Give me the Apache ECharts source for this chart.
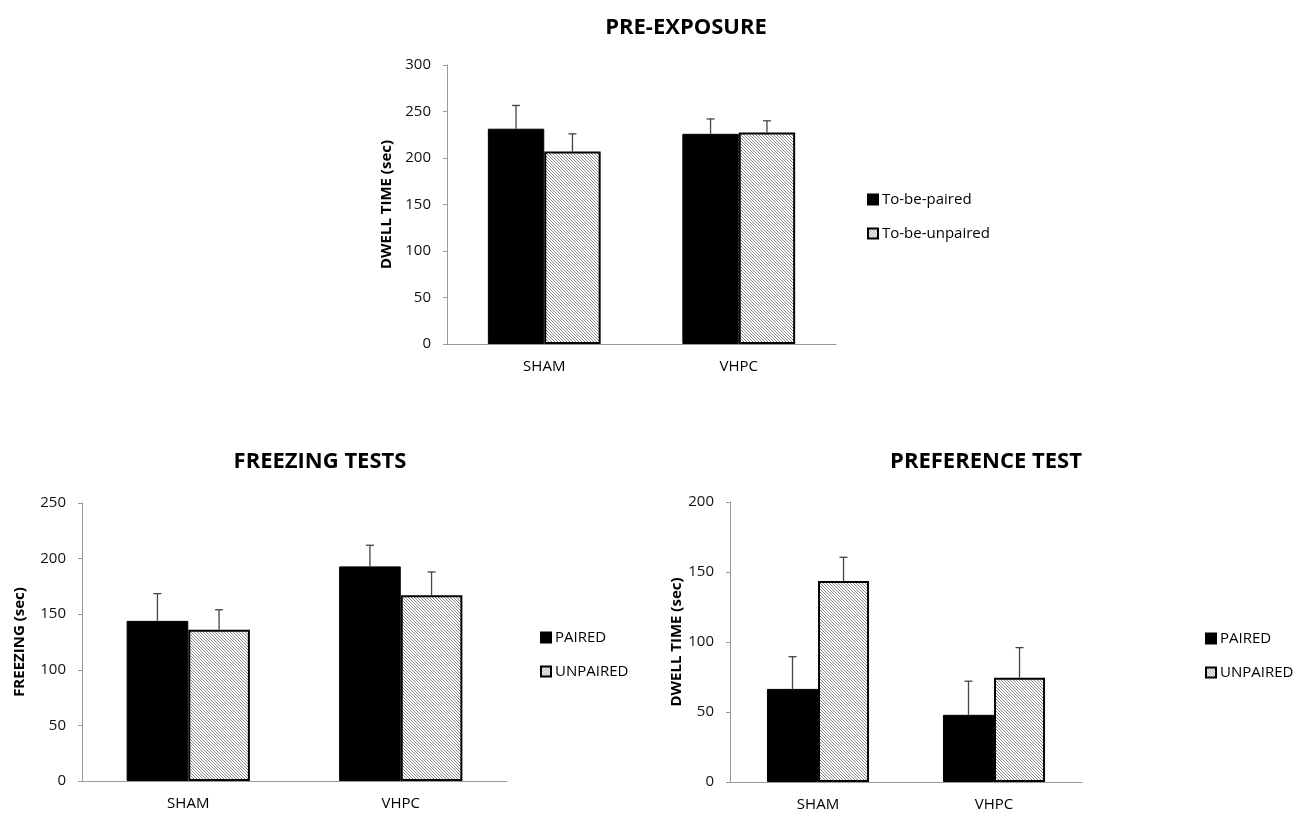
<!DOCTYPE html>
<html>
<head>
<meta charset="utf-8">
<script src="https://cdn.jsdelivr.net/npm/echarts@6/dist/echarts.min.js"></script>
<style>
  html, body { margin: 0; padding: 0; background: #fff; }
  #chart { width: 1294px; height: 814px; }
</style>
</head>
<body>
<div id="chart"></div>
<script>
// categories shared by the three panels
const categories = ["SHAM", "VHPC"];

// PRE-EXPOSURE
const preToBePaired = [231.5, 226];
const preToBePairedErr = [25, 16];
const preToBeUnpaired = [207, 227.5];
const preToBeUnpairedErr = [19, 12.5];

// FREEZING TESTS
const frzPaired = [144, 193];
const frzPairedErr = [24.5, 19];
const frzUnpaired = [136, 167];
const frzUnpairedErr = [18, 21];

// PREFERENCE TEST
const prefPaired = [66.5, 48];
const prefPairedErr = [23, 24];
const prefUnpaired = [143.5, 74.5];
const prefUnpairedErr = [17, 21.5];

const GAP = 0.42;
const FONT = "'Open Sans', Lato, sans-serif";

// fine diagonal hatch for the second bar of each pair
const makeHatch = () => {
    let c = document.createElement("canvas");
    c.width = 3;
    c.height = 3;
    let ctx = c.getContext("2d");
    ctx.fillStyle = "#fff";
    ctx.fillRect(0, 0, 3, 3);
    ctx.strokeStyle = "#8a8a8a";
    ctx.lineWidth = 1;
    ctx.beginPath();
    ctx.moveTo(-1, -1); ctx.lineTo(4, 4);
    ctx.moveTo(-1, 2); ctx.lineTo(1, 4);
    ctx.moveTo(2, -1); ctx.lineTo(4, 1);
    ctx.stroke();
    return c;
};
const hatch = { image: makeHatch(), repeat: "repeat" };

const errData = (vals, errs, which) =>
    vals.map((v, i) => [i, v, v + errs[i], which]);

const renderErr = (params, api) => {
    let cat = api.value(0);
    let base = api.coord([cat, api.value(1)]);
    let top = api.coord([cat, api.value(2)]);
    let band = api.size([1, 0])[0];
    let bw = band * (1 - GAP) / 2;
    let x = base[0] + (api.value(3) === 0 ? -bw / 2 : bw / 2);
    let style = { stroke: "#444", lineWidth: 1.3 };
    return {
        type: "group",
        children: [
            { type: "line", shape: { x1: x, y1: base[1], x2: x, y2: top[1] }, style: style },
            { type: "line", shape: { x1: x - 4, y1: top[1], x2: x + 4, y2: top[1] }, style: style }
        ]
    };
};

const yAxisOf = (idx, max, interval, name, gap) => ({
    type: "value",
    gridIndex: idx,
    min: 0,
    max: max,
    interval: interval,
    name: name,
    nameLocation: "middle",
    nameRotate: 90,
    nameGap: gap,
    nameTextStyle: { fontFamily: FONT, fontWeight: "bold", fontSize: 15, color: "#000" },
    axisLine: { show: true, lineStyle: { color: "#999", width: 1 } },
    axisTick: { show: true, length: 4, lineStyle: { color: "#999" } },
    splitLine: { show: false },
    axisLabel: { fontFamily: FONT, fontSize: 15, color: "#111", margin: 16 }
});

const xAxisOf = idx => ({
    type: "category",
    gridIndex: idx,
    data: categories,
    axisLine: { lineStyle: { color: "#999", width: 1 } },
    axisTick: { show: false },
    axisLabel: { fontFamily: FONT, fontSize: 15, color: "#000", margin: 15 }
});

const barPair = (idx, names, a, b) => [
    {
        name: names[0], type: "bar", xAxisIndex: idx, yAxisIndex: idx,
        data: a, barGap: "0%", barCategoryGap: GAP * 100 + "%",
        itemStyle: { color: "#000", borderColor: "#000", borderWidth: 1 }
    },
    {
        name: names[1], type: "bar", xAxisIndex: idx, yAxisIndex: idx,
        data: b, barGap: "0%", barCategoryGap: GAP * 100 + "%",
        itemStyle: { color: hatch, borderColor: "#000", borderWidth: 2 }
    }
];

const errSeries = (idx, a, aErr, b, bErr) => [
    { type: "custom", xAxisIndex: idx, yAxisIndex: idx, renderItem: renderErr, data: errData(a, aErr, 0), z: 3 },
    { type: "custom", xAxisIndex: idx, yAxisIndex: idx, renderItem: renderErr, data: errData(b, bErr, 1), z: 3 }
];

const legendOf = (names, left, top) => ({
    data: names,
    left: left,
    top: top,
    orient: "vertical",
    icon: "rect",
    itemWidth: 10,
    itemHeight: 10,
    itemGap: 19,
    selectedMode: false,
    textStyle: { fontFamily: FONT, fontSize: 15, color: "#000", padding: [0, 0, 0, -1] }
});

const titleStyle = { fontFamily: FONT, fontWeight: "bold", fontSize: 22, color: "#000" };

let chart = echarts.init(document.getElementById("chart"));
chart.setOption({
    animation: false,
    backgroundColor: "#fff",
    title: [
        { text: "PRE-EXPOSURE", left: 681, top: 12, textAlign: "center", textStyle: titleStyle },
        { text: "FREEZING TESTS", left: 315, top: 446, textAlign: "center", textStyle: titleStyle },
        { text: "PREFERENCE TEST", left: 981, top: 446, textAlign: "center", textStyle: titleStyle }
    ],
    legend: [
        legendOf(["To-be-paired", "To-be-unpaired"], 862, 187),
        legendOf(["PAIRED", "UNPAIRED"], 535, 625),
        legendOf(["PAIRED", "UNPAIRED"], 1200, 626)
    ],
    grid: [
        { left: 447, top: 65, width: 389, height: 279 },
        { left: 82, top: 503, width: 425, height: 278 },
        { left: 730, top: 502, width: 352, height: 280 }
    ],
    xAxis: [xAxisOf(0), xAxisOf(1), xAxisOf(2)],
    yAxis: [
        yAxisOf(0, 300, 50, "DWELL TIME (sec)", 53),
        yAxisOf(1, 250, 50, "FREEZING (sec)", 55),
        yAxisOf(2, 200, 50, "DWELL TIME (sec)", 37)
    ],
    series: [
        ...barPair(0, ["To-be-paired", "To-be-unpaired"], preToBePaired, preToBeUnpaired),
        ...errSeries(0, preToBePaired, preToBePairedErr, preToBeUnpaired, preToBeUnpairedErr),
        ...barPair(1, ["PAIRED", "UNPAIRED"], frzPaired, frzUnpaired),
        ...errSeries(1, frzPaired, frzPairedErr, frzUnpaired, frzUnpairedErr),
        ...barPair(2, ["PAIRED", "UNPAIRED"], prefPaired, prefUnpaired),
        ...errSeries(2, prefPaired, prefPairedErr, prefUnpaired, prefUnpairedErr)
    ]
});
</script>
</body>
</html>
